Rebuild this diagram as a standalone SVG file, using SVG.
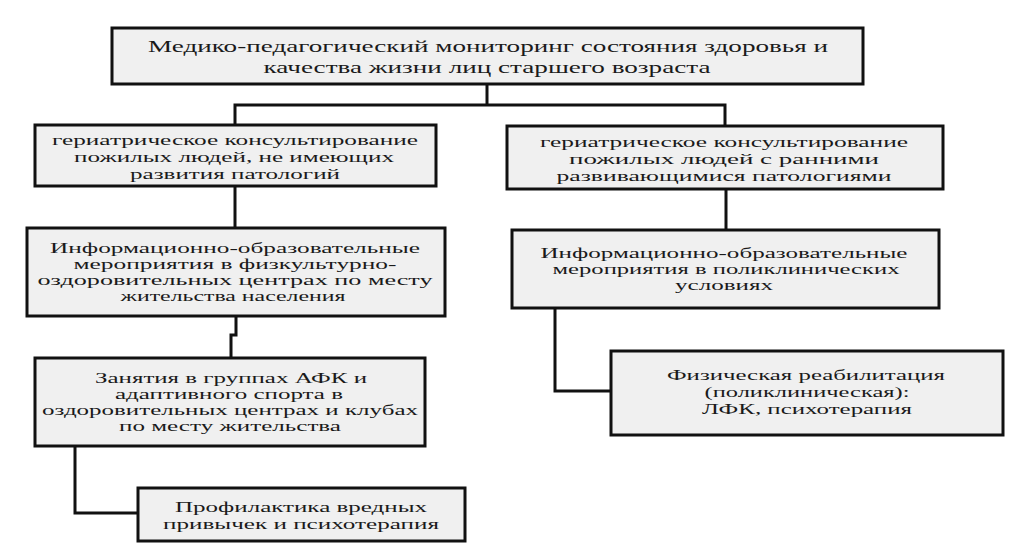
<svg xmlns="http://www.w3.org/2000/svg" width="1024" height="547" viewBox="0 0 1024 547">
<style>
.box{fill:#f0f0f0;stroke:#111;stroke-width:3}
.t{font-family:"Liberation Serif","Times New Roman",serif;font-size:15.5px;fill:#1a1a1a;text-anchor:middle}
.tt{font-size:17px}
.c{fill:none;stroke:#111;stroke-width:3}
</style>
<rect width="1024" height="547" fill="#ffffff"/>
<g id="connectors">
<path class="c" d="M487 84 V105"/>
<path class="c" d="M235 126 V105 H725 V126"/>
<path class="c" d="M235 186 V228"/>
<path class="c" d="M726 189 V230"/>
<path class="c" d="M236 316 V335 H231 V358"/>
<path class="c" d="M555 308 V391 H611"/>
<path class="c" d="M75 446 V513 H138"/>
</g>
<g id="n1">
<rect class="box" x="112" y="28" width="751" height="56"/>
<text class="t tt" x="488" y="52" textLength="680" lengthAdjust="spacingAndGlyphs">Медико-педагогический мониторинг состояния здоровья и</text>
<text class="t tt" x="487" y="73" textLength="447" lengthAdjust="spacingAndGlyphs">качества жизни лиц старшего возраста</text>
</g>
<g id="n2">
<rect class="box" x="35" y="125" width="401" height="61"/>
<text class="t" x="235" y="145" textLength="366" lengthAdjust="spacingAndGlyphs">гериатрическое консультирование</text>
<text class="t" x="234" y="162" textLength="320" lengthAdjust="spacingAndGlyphs">пожилых людей, не имеющих</text>
<text class="t" x="235" y="179" textLength="210" lengthAdjust="spacingAndGlyphs">развития патологий</text>
</g>
<g id="n3">
<rect class="box" x="507" y="126" width="436" height="63"/>
<text class="t" x="724" y="147" textLength="368" lengthAdjust="spacingAndGlyphs">гериатрическое консультирование</text>
<text class="t" x="724" y="164" textLength="310" lengthAdjust="spacingAndGlyphs">пожилых людей с ранними</text>
<text class="t" x="724" y="181" textLength="335" lengthAdjust="spacingAndGlyphs">развивающимися патологиями</text>
</g>
<g id="n4">
<rect class="box" x="27" y="228" width="418" height="88"/>
<text class="t" x="235" y="253" textLength="370" lengthAdjust="spacingAndGlyphs">Информационно-образовательные</text>
<text class="t" x="235" y="269" textLength="323" lengthAdjust="spacingAndGlyphs">мероприятия в физкультурно-</text>
<text class="t" x="235" y="285" textLength="395" lengthAdjust="spacingAndGlyphs">оздоровительных центрах по месту</text>
<text class="t" x="233" y="301" textLength="225" lengthAdjust="spacingAndGlyphs">жительства населения</text>
</g>
<g id="n5">
<rect class="box" x="512" y="230" width="427" height="78"/>
<text class="t" x="724" y="258" textLength="367" lengthAdjust="spacingAndGlyphs">Информационно-образовательные</text>
<text class="t" x="726" y="274" textLength="347" lengthAdjust="spacingAndGlyphs">мероприятия в поликлинических</text>
<text class="t" x="724" y="290" textLength="98" lengthAdjust="spacingAndGlyphs">условиях</text>
</g>
<g id="n6">
<rect class="box" x="35" y="358" width="390" height="88"/>
<text class="t" x="231" y="383" textLength="272" lengthAdjust="spacingAndGlyphs">Занятия в группах АФК и</text>
<text class="t" x="229" y="399" textLength="228" lengthAdjust="spacingAndGlyphs">адаптивного спорта в</text>
<text class="t" x="230" y="415" textLength="376" lengthAdjust="spacingAndGlyphs">оздоровительных центрах и клубах</text>
<text class="t" x="230" y="431" textLength="222" lengthAdjust="spacingAndGlyphs">по месту жительства</text>
</g>
<g id="n7">
<rect class="box" x="611" y="351" width="392" height="84"/>
<text class="t" x="806" y="380" textLength="278" lengthAdjust="spacingAndGlyphs">Физическая реабилитация</text>
<text class="t" x="807" y="397" textLength="205" lengthAdjust="spacingAndGlyphs">(поликлиническая):</text>
<text class="t" x="807" y="414" textLength="210" lengthAdjust="spacingAndGlyphs">ЛФК, психотерапия</text>
</g>
<g id="n8">
<rect class="box" x="138" y="488" width="327" height="53"/>
<text class="t" x="301" y="512" textLength="252" lengthAdjust="spacingAndGlyphs">Профилактика вредных</text>
<text class="t" x="301" y="529" textLength="276" lengthAdjust="spacingAndGlyphs">привычек и психотерапия</text>
</g>
</svg>
